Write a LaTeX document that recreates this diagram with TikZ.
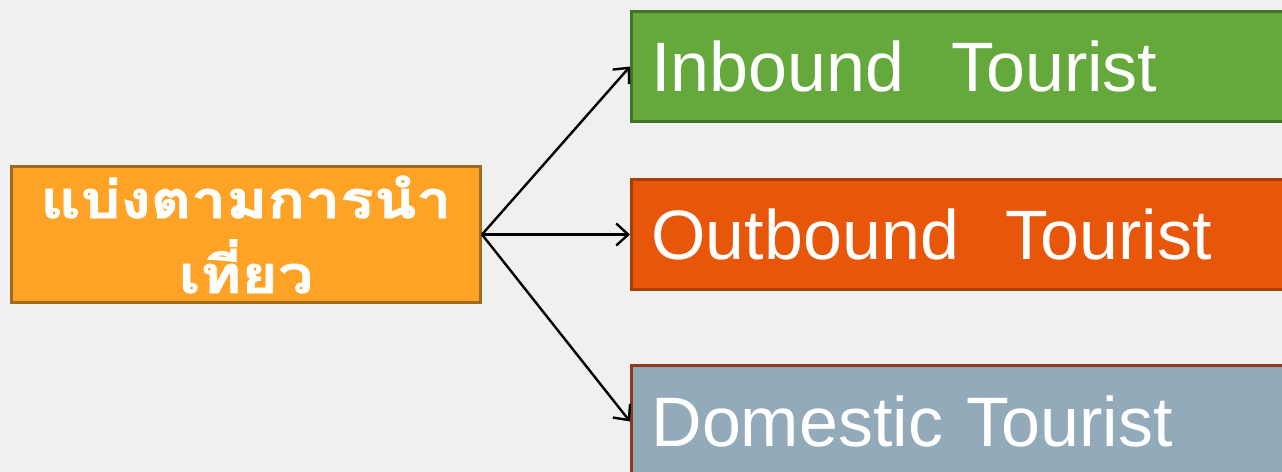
\documentclass[tikz,border=0pt]{standalone}
\usepackage{fontspec}
\setmainfont{Liberation Sans}
\newfontfamily\thaifont[Script=Thai, FakeStretch=1.2, BoldFeatures={FakeBold=1.5}]{Loma}
\usepackage{tikz}
\usetikzlibrary{arrows.meta}

\definecolor{paper}{HTML}{F0F0F0}
\definecolor{srcfill}{HTML}{FFA326}
\definecolor{srcedge}{HTML}{9E6B1E}
\definecolor{inbfill}{HTML}{65A83C}
\definecolor{inbedge}{HTML}{41722A}
\definecolor{outbfill}{HTML}{E8560A}
\definecolor{outbedge}{HTML}{A63E08}
\definecolor{domfill}{HTML}{93AABB}
\definecolor{domedge}{HTML}{8E3A1B}

\begin{document}
\begin{tikzpicture}[x=0.5pt, y=-0.5pt,
  srcbox/.style={draw=srcedge, fill=srcfill, line width=1.5pt, anchor=north west,
    minimum width=234.5pt, minimum height=68pt, align=center, text=white,
    font=\thaifont\bfseries\fontsize{26}{37.5}\selectfont},
  kindbox/.style={line width=1.5pt, anchor=north west, text width=330pt,
    inner xsep=10pt, minimum height=55pt, align=left, text=white,
    font=\fontsize{35}{42}\selectfont}]
  \clip (0,0) rectangle (1282,472);
  \fill[paper] (0,0) rectangle (1282,472);

  \node[srcbox] (src) at (10,165) {แบ่งตามการนำ\\เที่ยว};
  \node[kindbox, draw=inbedge, fill=inbfill] (inb) at (630,10) {Inbound\ \ Tourist};
  \node[kindbox, draw=outbedge, fill=outbfill] (outb) at (630,178) {Outbound\ \ Tourist};
  \node[kindbox, draw=domedge, fill=domfill, minimum height=56pt] (dom) at (630,364) {Domestic Tourist};

  \path[-{Straight Barb[length=6pt, width=11pt]}, line width=1.2pt]
  (src.east) edge (inb.west)
             edge (outb.west)
             edge (dom.west);
\end{tikzpicture}
\end{document}
